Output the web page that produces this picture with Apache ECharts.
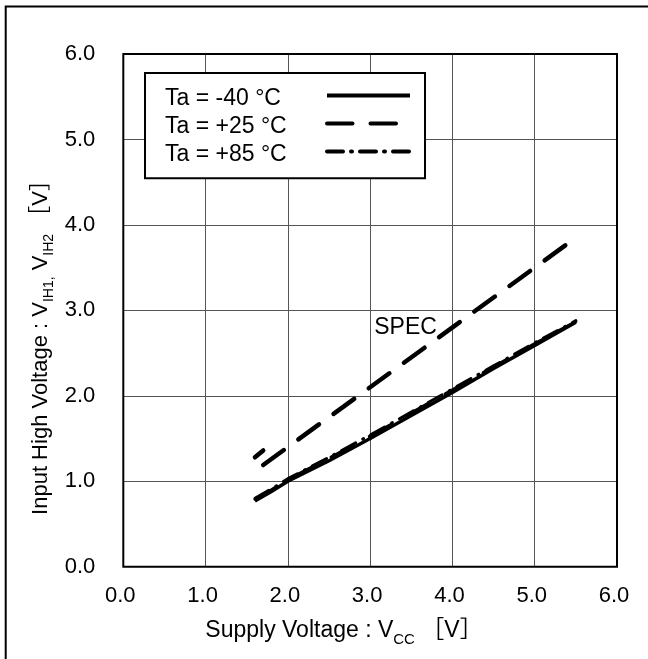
<!DOCTYPE html>
<html><head><meta charset="utf-8">
<script src="https://cdn.jsdelivr.net/npm/echarts@6/dist/echarts.min.js"></script>
<style>html,body{margin:0;padding:0;background:#fff}#c{width:648px;height:659px}</style>
</head><body><div id="c"></div>
<script>
// ---- data ----
const vcc      = [1.6, 1.8, 2.0, 2.5, 3.0, 3.5, 4.0, 4.5, 5.0, 5.5];
const vihM40   = [0.77, 0.88, 1.00, 1.24, 1.50, 1.77, 2.04, 2.32, 2.59, 2.86];
const vihP25   = [0.79, 0.90, 1.02, 1.27, 1.53, 1.80, 2.07, 2.34, 2.61, 2.87];
const vihP85   = [0.80, 0.91, 1.03, 1.28, 1.54, 1.81, 2.08, 2.35, 2.62, 2.88];
const specLowX  = [1.6, 1.7];
const specLowY  = [1.28, 1.36];
const specHighX = [1.7, 5.5];
const specHighY = [1.19, 3.85];
const seriesNames = ['Ta = -40 °C', 'Ta = +25 °C', 'Ta = +85 °C'];
const xTickLabels = ['0.0', '1.0', '2.0', '3.0', '4.0', '5.0', '6.0'];
const yTickLabels = ['0.0', '1.0', '2.0', '3.0', '4.0', '5.0', '6.0'];
const specText = 'SPEC';
const specLabelAt = [3.43, 2.80];

const FONT = '"Liberation Sans", Arial, "Noto Sans CJK JP", sans-serif';
const pairs = (xs, ys) => xs.map((x, i) => [x, ys[i]]);
const chart = echarts.init(document.getElementById('c'), null, {renderer: 'canvas'});

const richFor = (big, small) => ({
  n: {fontSize: big, fontFamily: FONT, fill: '#000', color: '#000', verticalAlign: 'bottom', padding: [0, 0, 5, 0]},
  s: {fontSize: small, fontFamily: FONT, fill: '#000', color: '#000', verticalAlign: 'bottom'}
});

const dashStyle = [25.5, 18];
const dashDotStyle = [16, 8, 1, 8];

const option = {
  backgroundColor: '#fff',
  animation: false,
  textStyle: {fontFamily: FONT, color: '#000'},
  grid: {left: 123.3, right: 31, top: 54, bottom: 92.3, show: true, borderColor: '#000', borderWidth: 2, z: 3},
  xAxis: {
    type: 'value', min: 0, max: 6, interval: 1,
    axisLine: {show: false}, axisTick: {show: false},
    axisLabel: {fontSize: 22, color: '#000', fontFamily: FONT, margin: 18, padding: [0, 6, 0, 0],
      formatter: v => xTickLabels[Math.round(v)]},
    splitLine: {show: true, lineStyle: {color: '#555', width: 1}}
  },
  yAxis: {
    type: 'value', min: 0, max: 6, interval: 1,
    axisLine: {show: false}, axisTick: {show: false},
    axisLabel: {fontSize: 22, color: '#000', fontFamily: FONT, margin: 28,
      formatter: v => yTickLabels[Math.round(v)]},
    splitLine: {show: true, lineStyle: {color: '#555', width: 1}}
  },
  legend: {
    data: seriesNames,
    orient: 'vertical', left: 145, top: 73,
    align: 'right',
    itemWidth: 83, itemHeight: 14, itemGap: -2,
    padding: [7.5, 13, 11.7, 20],
    backgroundColor: '#fff', borderColor: '#000', borderWidth: 2,
    selectedMode: false,
    formatter: name => '{a|' + name + '}',
    textStyle: {fontSize: 23, color: '#000', fontFamily: FONT,
      rich: {a: {width: 157, align: 'left', fontSize: 23, lineHeight: 17, padding: [7, 0, 0, 0], fontFamily: FONT, color: '#000'}}},
    itemStyle: {opacity: 0, color: 'rgba(0,0,0,0)', borderWidth: 0},
    lineStyle: {width: 4, color: '#000', opacity: 1}
  },
  series: [
    {name: seriesNames[1], type: 'line', data: pairs(vcc, vihP25), symbol: 'none', itemStyle: {color: '#000'},
      lineStyle: {color: '#000', width: 3, type: dashStyle, cap: 'round'}},
    {name: seriesNames[2], type: 'line', data: pairs(vcc, vihP85), symbol: 'none', itemStyle: {color: '#000'},
      lineStyle: {color: '#000', width: 3, type: dashDotStyle, cap: 'round'}},
    {name: seriesNames[0], type: 'line', data: pairs(vcc, vihM40), symbol: 'none', itemStyle: {color: '#000'},
      lineStyle: {color: '#000', width: 3.5, type: 'solid'}},
    {name: 'SPEC_low', type: 'line', data: pairs(specLowX, specLowY), symbol: 'none', itemStyle: {color: '#000'},
      lineStyle: {color: '#000', width: 4.5, type: dashStyle, cap: 'round'}},
    {name: 'SPEC_high', type: 'line', data: pairs(specHighX, specHighY), symbol: 'none', itemStyle: {color: '#000'},
      lineStyle: {color: '#000', width: 4.5, type: dashStyle, cap: 'round'},
      markPoint: {
        silent: true, symbol: 'rect', symbolSize: 1,
        itemStyle: {color: 'rgba(0,0,0,0)'},
        label: {show: true, position: 'inside', formatter: specText, fontSize: 23, color: '#000', fontFamily: FONT},
        data: [{coord: specLabelAt}]
      }}
  ],
  graphic: [
    {type: 'rect', silent: true, z: 10,
      shape: {x: 5.7, y: 6.5, width: 800, height: 800},
      style: {fill: null, stroke: '#000', lineWidth: 2}},
    {type: 'text', silent: true, x: 344, y: 633,
      style: {text: '{n|Supply Voltage : V}{s|CC}{n| ［V］}', rich: richFor(23, 15),
        align: 'center', verticalAlign: 'middle', fill: '#000', font: '23px ' + FONT}},
    {type: 'text', silent: true, x: 43, y: 342, rotation: Math.PI / 2,
      style: {text: '{n|Input High Voltage : V}{s|IH1,}{n| V}{s|IH2}{n| ［V］}', rich: richFor(22, 14),
        align: 'center', verticalAlign: 'middle', fill: '#000', font: '22px ' + FONT}}
  ]
};
chart.setOption(option);
</script>
</body></html>
